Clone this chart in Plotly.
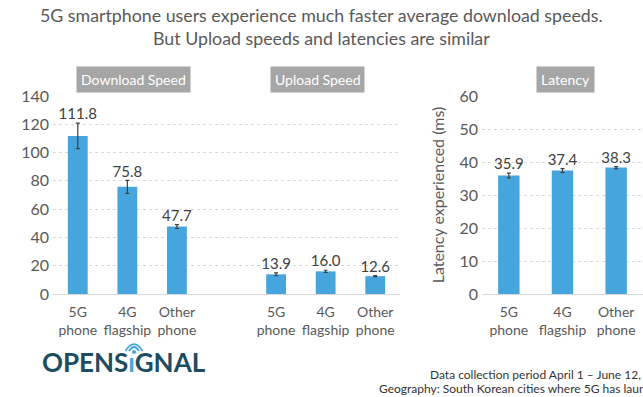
import plotly.graph_objects as go

# ---- data ----
devices = ["5G<br>phone", "4G<br>flagship", "Other<br>phone"]
download_speed = [111.8, 75.8, 47.7]
download_err = [9.0, 4.6, 1.4]
upload_speed = [13.9, 16.0, 12.6]
upload_err = [1.0, 0.8, 0.4]
latency = [35.9, 37.4, 38.3]
latency_err = [0.7, 0.6, 0.3]
speed_ticks = [0, 20, 40, 60, 80, 100, 120, 140]
latency_ticks = [0, 10, 20, 30, 40, 50, 60]

W, H = 643, 397
def px(x):
    return x / W
def py(y):
    return 1 - y / H

BAR = "#47a5dd"
ERR = "#404040"
TXT = "#404040"
GRID = "#d9d9d9"
FONT = "Lato"

fig = go.Figure()

# left axis: download (slots 0-2) and upload (slots 4-6)
dl_x = list(range(len(devices)))
ul_x = [i + len(devices) + 1 for i in range(len(devices))]

for xs, vals, errs in [(dl_x, download_speed, download_err), (ul_x, upload_speed, upload_err)]:
    fig.add_trace(go.Bar(
        x=xs, y=vals, width=0.4, marker=dict(color=BAR, line=dict(width=0)),
        error_y=dict(type="data", array=errs, color=ERR, thickness=1.2, width=2),
        xaxis="x", yaxis="y", showlegend=False, hoverinfo="skip"))
    fig.add_trace(go.Scatter(
        x=xs, y=[v + e for v, e in zip(vals, errs)], mode="text",
        text=[f"{v:.1f}" for v in vals], textposition="top center",
        textfont=dict(family=FONT, size=15, color=TXT),
        xaxis="x", yaxis="y", showlegend=False, hoverinfo="skip"))

lat_x = list(range(len(devices)))
fig.add_trace(go.Bar(
    x=lat_x, y=latency, width=0.4, marker=dict(color=BAR, line=dict(width=0)),
    error_y=dict(type="data", array=latency_err, color=ERR, thickness=1.2, width=2),
    xaxis="x2", yaxis="y2", showlegend=False, hoverinfo="skip"))
fig.add_trace(go.Scatter(
    x=lat_x, y=[v + e for v, e in zip(latency, latency_err)], mode="text",
    text=[f"{v:.1f}" for v in latency], textposition="top center",
    textfont=dict(family=FONT, size=15, color=TXT),
    xaxis="x2", yaxis="y2", showlegend=False, hoverinfo="skip"))

ydom = [py(294), py(96)]
axis_font = dict(family=FONT, size=16, color="#595959")
tick_font = dict(family=FONT, size=14, color="#595959")

fig.update_layout(
    width=W, height=H,
    margin=dict(l=0, r=0, t=0, b=0, autoexpand=False),
    paper_bgcolor="white", plot_bgcolor="white",
    font=dict(family=FONT),
    xaxis=dict(domain=[px(53), px(400)], range=[-0.5, 6.5], automargin=False,
               tickvals=dl_x + ul_x, ticktext=devices + devices,
               tickfont=tick_font, showgrid=False, zeroline=False,
               showline=False, ticks="", ticklabelstandoff=8),
    yaxis=dict(domain=ydom, range=[0, 140], tickvals=speed_ticks, automargin=False,
               tickfont=axis_font, showgrid=True, gridcolor=GRID, griddash="dot",
               gridwidth=1, zeroline=True, zerolinecolor=GRID, zerolinewidth=1,
               ticks="", anchor="x", ticklabelstandoff=3),
    xaxis2=dict(domain=[px(482), 1], range=[-0.5, 2.5], automargin=False,
                tickvals=lat_x, ticktext=devices, tickfont=tick_font,
                showgrid=False, zeroline=False, showline=False, ticks="", anchor="y2",
                ticklabelstandoff=8),
    yaxis2=dict(domain=ydom, range=[0, 60], tickvals=latency_ticks, automargin=False,
                tickfont=axis_font, showgrid=True, gridcolor=GRID, griddash="dot",
                gridwidth=1, zeroline=True, zerolinecolor=GRID, zerolinewidth=1,
                ticks="", anchor="x2", ticklabelstandoff=3,
                title=dict(text="Latency experienced (ms)", standoff=10,
                           font=dict(family=FONT, size=16, color="#595959"))),
)

# title
fig.add_annotation(text="5G smartphone users experience much faster average download speeds.<br>But Upload speeds and latencies are similar",
                   xref="paper", yref="paper", x=0.5, y=py(26), xanchor="center", yanchor="middle",
                   showarrow=False, align="center",
                   font=dict(family=FONT, size=17.8, color="#595959"))

# panel header boxes
for label, cx in [("Download Speed", 133), ("Upload Speed", 317), ("Latency", 565)]:
    fig.add_annotation(text=label, xref="paper", yref="paper", x=px(cx), y=py(80),
                       xanchor="center", yanchor="middle", showarrow=False,
                       bgcolor="#a6a6a6", borderpad=4,
                       font=dict(family=FONT, size=14, color="white"))

# logo
fig.add_annotation(text="<b>OPENS<span style='color:#44a6dc'>ı</span>GNAL</b>",
                   xref="paper", yref="paper", x=px(40), y=py(362),
                   xanchor="left", yanchor="middle", showarrow=False,
                   font=dict(family=FONT, size=26, color="#1d4d62"))
# wifi mark over the i
cx, cy = 134, 352
fig.add_shape(type="circle", xref="paper", yref="paper",
              x0=px(cx - 2), x1=px(cx + 2), y0=py(cy + 2), y1=py(cy - 2),
              fillcolor="#44a6dc", line=dict(width=0))
for r in (5, 8.5):
    path = (f"M {px(cx - r)} {py(cy - 1)} "
            f"Q {px(cx)} {py(cy - 1 - 1.6 * r)} {px(cx + r)} {py(cy - 1)}")
    fig.add_shape(type="path", xref="paper", yref="paper", path=path,
                  line=dict(color="#44a6dc", width=1.8))

# footnote
fig.add_annotation(text="Data collection period April 1 – June 12, 2019",
                   xref="paper", yref="paper", x=px(428), y=py(374),
                   xanchor="left", yanchor="middle", showarrow=False,
                   font=dict(family=FONT, size=12, color="#333333"))
fig.add_annotation(text="Geography: South Korean cities where 5G has launched",
                   xref="paper", yref="paper", x=px(377), y=py(388),
                   xanchor="left", yanchor="middle", showarrow=False,
                   font=dict(family=FONT, size=12, color="#333333"))

fig.write_html("out.html", config={"displayModeBar": False},
               post_script="document.body.style.margin='0';")
